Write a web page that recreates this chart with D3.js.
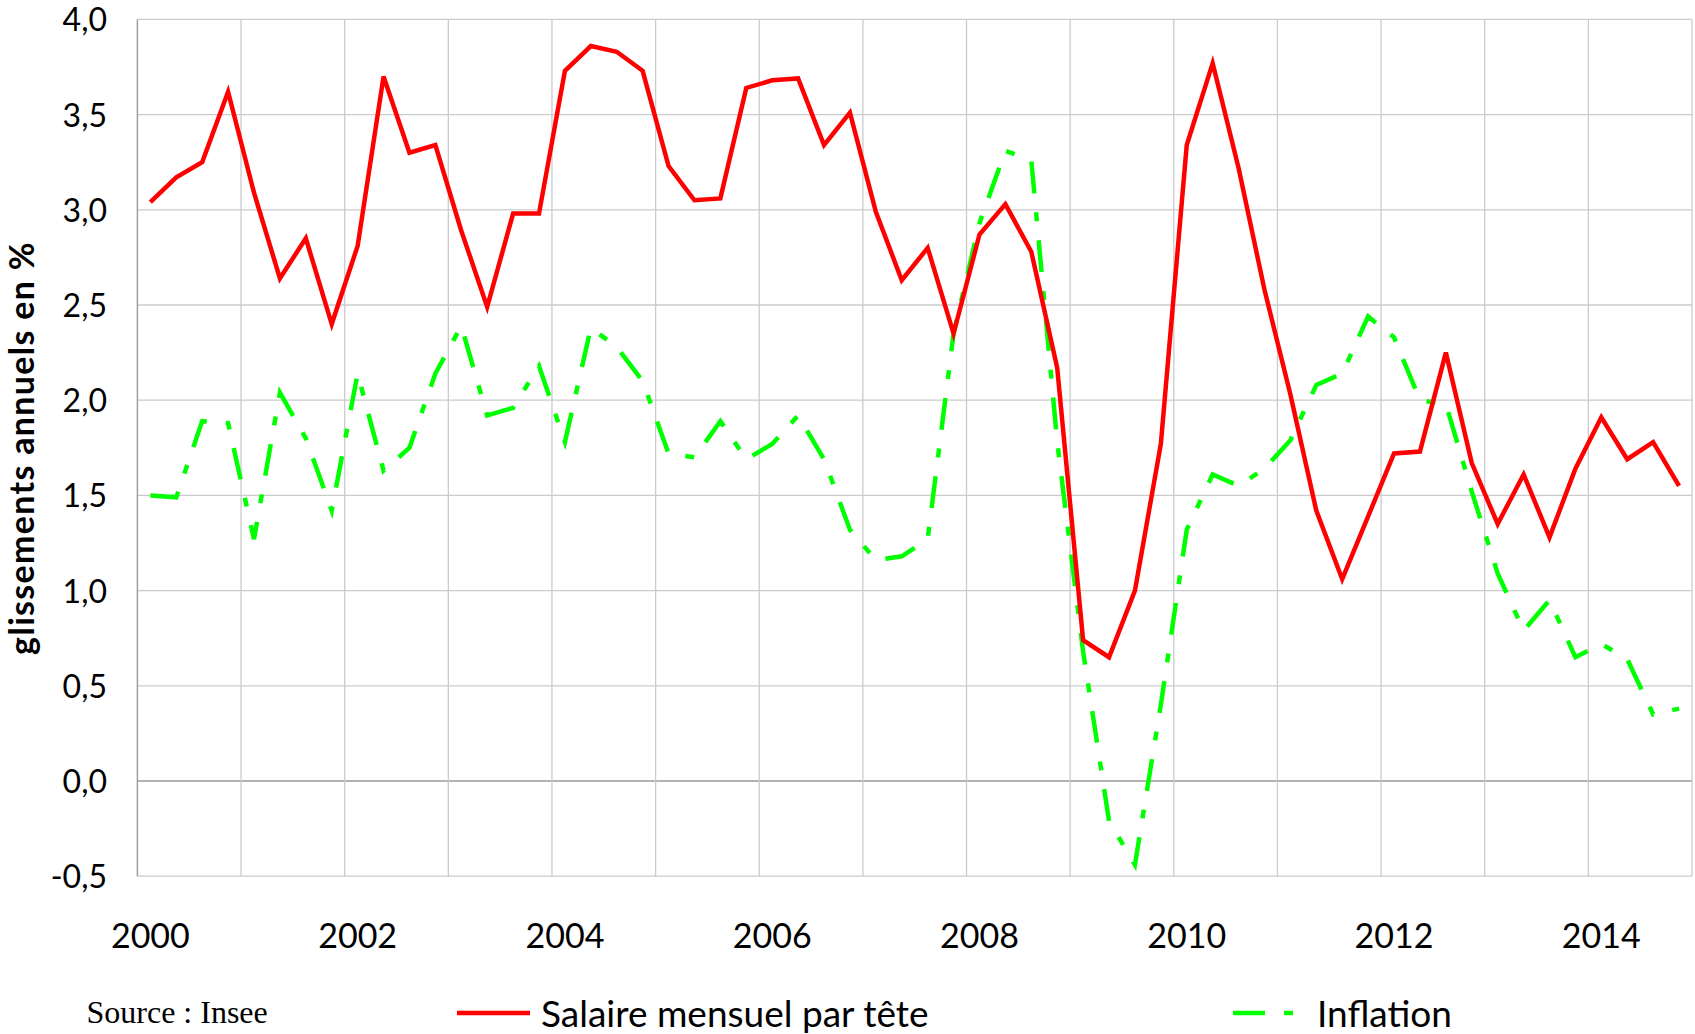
<!DOCTYPE html>
<html>

<head>
    <meta charset="utf-8">
    <script src="https://d3js.org/d3.v7.min.js"></script>
    <style>
        body { margin: 0; background: #fff; }
        text { font-family: Lato, "Noto Sans", sans-serif; fill: #000; }
    </style>
</head>

<body>
    <script>
        // données trimestrielles 2000T1 - 2014T4
        var years = [2000, 2001, 2002, 2003, 2004, 2005, 2006, 2007, 2008, 2009, 2010, 2011, 2012, 2013, 2014];
        var quarters = years.flatMap(function (yr) { return ["T1", "T2", "T3", "T4"].map(function (q) { return yr + q; }); });

        // salaire mensuel par tête (glissement annuel, %)
        var salaire = [
            3.04, 3.17, 3.25, 3.62, 3.09, 2.64, 2.85, 2.40, 2.81, 3.70,
            3.30, 3.34, 2.89, 2.49, 2.98, 2.98, 3.73, 3.86, 3.83, 3.73,
            3.23, 3.05, 3.06, 3.64, 3.68, 3.69, 3.34, 3.51, 2.99, 2.63,
            2.80, 2.35, 2.87, 3.03, 2.78, 2.17, 0.74, 0.65, 1.00, 1.77,
            3.34, 3.77, 3.22, 2.58, 2.03, 1.42, 1.06, 1.39, 1.72, 1.73,
            2.25, 1.67, 1.35, 1.61, 1.28, 1.64, 1.91, 1.69, 1.78, 1.55
        ];

        // inflation (glissement annuel, %)
        var inflation = [
            1.50, 1.49, 1.89, 1.88, 1.27, 2.04, 1.80, 1.42, 2.14, 1.63,
            1.75, 2.14, 2.39, 1.92, 1.96, 2.18, 1.78, 2.38, 2.28, 2.10,
            1.72, 1.70, 1.89, 1.69, 1.77, 1.92, 1.69, 1.32, 1.16, 1.18,
            1.27, 2.35, 2.93, 3.31, 3.26, 1.78, 0.68, -0.21, -0.44, 0.40,
            1.32, 1.61, 1.55, 1.64, 1.79, 2.08, 2.14, 2.44, 2.33, 2.00,
            1.98, 1.52, 1.09, 0.79, 0.95, 0.65, 0.72, 0.64, 0.35, 0.38
        ];

        var yTicks = [-0.5, 0, 0.5, 1, 1.5, 2, 2.5, 3, 3.5, 4];
        var xLabels = ["2000", "2002", "2004", "2006", "2008", "2010", "2012", "2014"];

        var width = 1695, height = 1034;
        var plot = { left: 137.4, right: 1692, top: 19.4, bottom: 876.2 };

        var svg = d3.select("body").append("svg")
            .attr("width", width)
            .attr("height", height);

        var x = d3.scaleBand()
            .domain(quarters)
            .range([plot.left, plot.right])
            .padding(0);
        var bw = x.bandwidth();

        var y = d3.scaleLinear()
            .domain([-0.5, 4])
            .range([plot.bottom, plot.top]);

        // quadrillage horizontal
        svg.append("g").selectAll("line")
            .data(yTicks)
            .join("line")
            .attr("x1", plot.left).attr("x2", plot.right)
            .attr("y1", function (d) { return y(d); })
            .attr("y2", function (d) { return y(d); })
            .style("stroke", function (d) { return d === 0 ? "#9a9a9a" : "#cbcbcb"; })
            .style("stroke-width", function (d) { return d === 0 ? 1.6 : 1.3; });

        // quadrillage vertical (une ligne par année)
        var yearBounds = quarters.filter(function (q, i) { return i % 4 === 0 && i > 0; });
        svg.append("g").selectAll("line")
            .data(yearBounds)
            .join("line")
            .attr("x1", function (d) { return x(d); })
            .attr("x2", function (d) { return x(d); })
            .attr("y1", plot.top).attr("y2", plot.bottom)
            .style("stroke", "#cbcbcb")
            .style("stroke-width", 1.3);
        svg.append("line")
            .attr("x1", plot.right).attr("x2", plot.right)
            .attr("y1", plot.top).attr("y2", plot.bottom)
            .style("stroke", "#cbcbcb")
            .style("stroke-width", 1.3);

        // axe vertical
        svg.append("line")
            .attr("x1", plot.left).attr("x2", plot.left)
            .attr("y1", plot.top).attr("y2", plot.bottom)
            .style("stroke", "#a0a0a0")
            .style("stroke-width", 1.5);

        // étiquettes de l'axe Y
        var fmt = d3.format(".1f");
        svg.append("g").selectAll("text")
            .data(yTicks)
            .join("text")
            .attr("x", 107)
            .attr("y", function (d) { return y(d) + 12; })
            .attr("text-anchor", "end")
            .style("font-size", "32px")
            .text(function (d) { return fmt(d).replace(".", ",").replace("\u2212", "-"); });

        // étiquettes de l'axe X (tous les deux ans)
        svg.append("g").selectAll("text")
            .data(xLabels)
            .join("text")
            .attr("x", function (d) { return x(d + "T1") + bw / 2; })
            .attr("y", 948)
            .attr("text-anchor", "middle")
            .style("font-size", "34px")
            .text(function (d) { return d; });

        // titre de l'axe Y
        svg.append("text")
            .attr("transform", "translate(34,448) rotate(-90)")
            .attr("text-anchor", "middle")
            .style("font-size", "34px")
            .style("font-weight", "bold")
            .style("letter-spacing", "1.3px")
            .text("glissements annuels en %");

        // courbes
        var line = d3.line()
            .x(function (d, i) { return x(quarters[i]) + bw / 2; })
            .y(function (d) { return y(d); });

        svg.append("path")
            .datum(inflation)
            .attr("d", line)
            .style("fill", "none")
            .style("stroke", "#00ff00")
            .style("stroke-width", 4.5)
            .style("stroke-dasharray", "32,19,9,19");

        svg.append("path")
            .datum(salaire)
            .attr("d", line)
            .style("fill", "none")
            .style("stroke", "#ff0000")
            .style("stroke-width", 4.5);

        // source et légende
        svg.append("text")
            .attr("x", 86.5)
            .attr("y", 1023)
            .style("font-family", "'Liberation Serif', 'DejaVu Serif', serif")
            .style("font-size", "32px")
            .text("Source : Insee");

        var legend = [
            { name: "Salaire mensuel par tête", color: "#ff0000", dash: null, x0: 457 },
            { name: "Inflation", color: "#00ff00", dash: "32,19,9,19", x0: 1233 }
        ];
        var lg = svg.append("g").selectAll("g")
            .data(legend)
            .join("g");
        lg.append("line")
            .attr("x1", function (d) { return d.x0; })
            .attr("x2", function (d) { return d.x0 + 73; })
            .attr("y1", 1013).attr("y2", 1013)
            .style("stroke", function (d) { return d.color; })
            .style("stroke-width", 4.5)
            .style("stroke-dasharray", function (d) { return d.dash; });
        lg.append("text")
            .attr("x", function (d) { return d.x0 + 84; })
            .attr("y", 1027)
            .style("font-size", "37px")
            .text(function (d) { return d.name; });
    </script>
</body>

</html>
